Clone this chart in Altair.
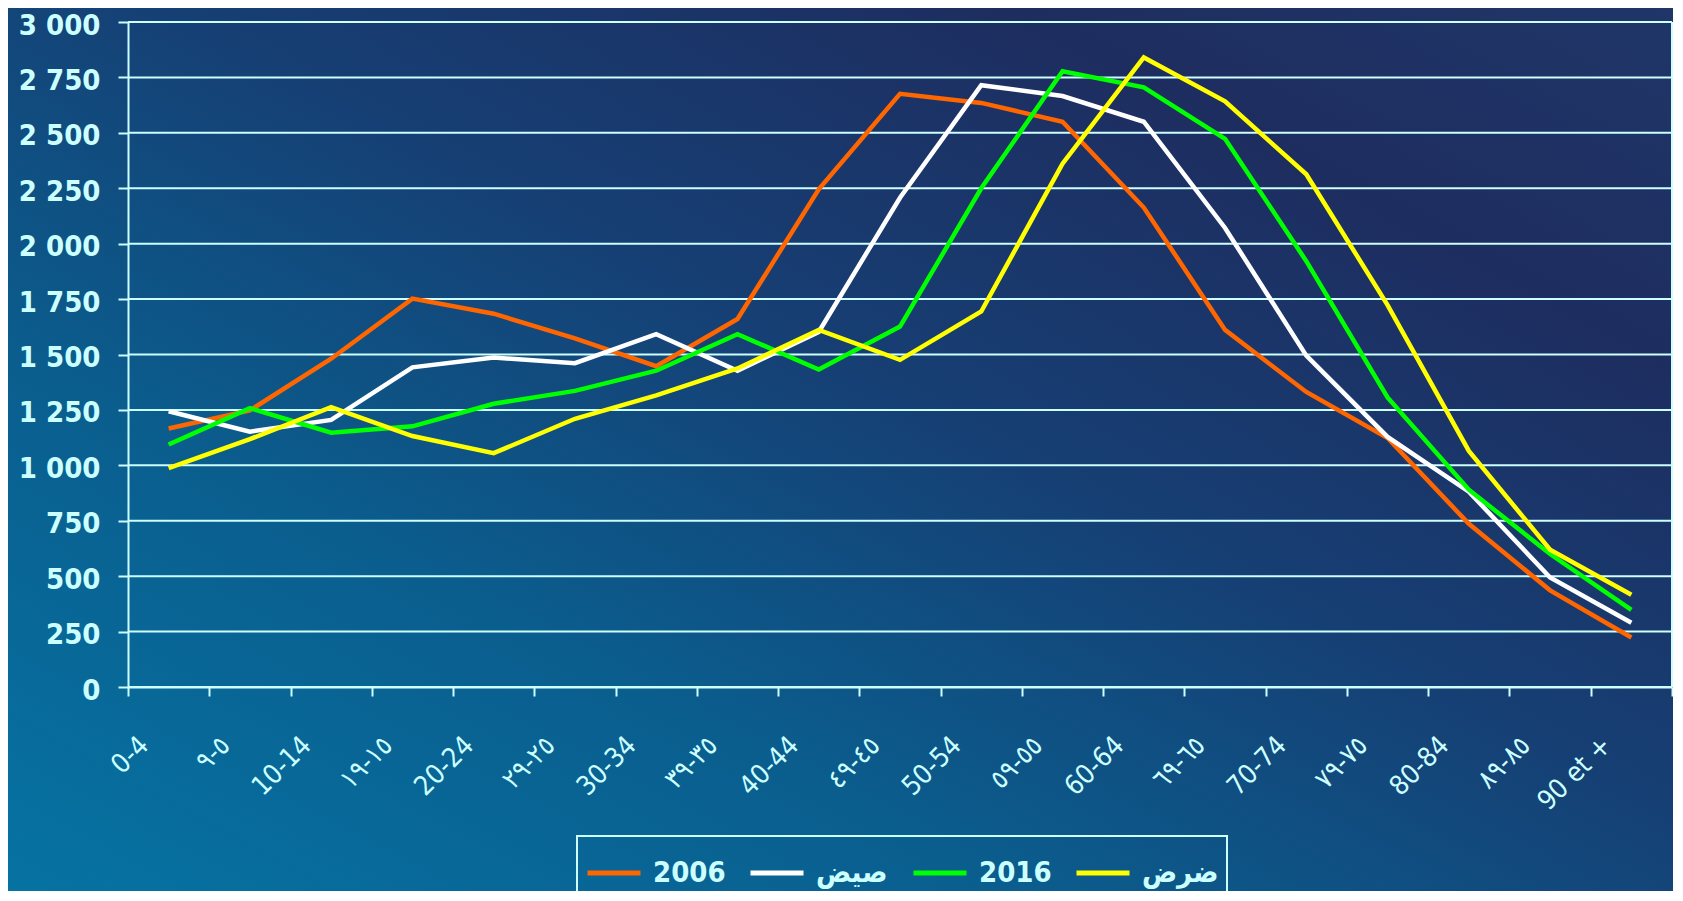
import json
import altair as alt
import pandas as pd

# ---- data ----
age_groups = ["0-4", "٥-٩", "10-14", "١٥-١٩", "20-24", "٢٥-٢٩", "30-34", "٣٥-٣٩",
              "40-44", "٤٥-٤٩", "50-54", "٥٥-٥٩", "60-64", "٦٥-٦٩", "70-74", "٧٥-٧٩",
              "80-84", "٨٥-٨٩", "90 et +"]
series_names = ["2006", "صيض", "2016", "ضرض"]
series_colors = ["#FF6600", "#FFFFFF", "#00FF00", "#FFFF00"]

values_2006 = [1166, 1248, 1481, 1752, 1684, 1573, 1447, 1660, 2245, 2676,
               2635, 2550, 2163, 1611, 1331, 1123, 736, 436, 223]
values_2011 = [1244, 1152, 1205, 1442, 1486, 1461, 1592, 1427, 1602, 2207,
               2715, 2666, 2550, 2071, 1495, 1128, 881, 494, 290]
values_2016 = [1094, 1258, 1147, 1176, 1278, 1336, 1427, 1592, 1432, 1626,
               2250, 2778, 2705, 2473, 1921, 1306, 890, 600, 348]
values_2021 = [987, 1118, 1263, 1132, 1055, 1210, 1316, 1437, 1611, 1476,
               1694, 2361, 2840, 2642, 2313, 1723, 1065, 619, 416]

y_ticks = [0, 250, 500, 750, 1000, 1250, 1500, 1750, 2000, 2250, 2500, 2750, 3000]

all_series = [values_2006, values_2011, values_2016, values_2021]

rows = []
for name, vals in zip(series_names, all_series):
    for i, (grp, v) in enumerate(zip(age_groups, vals)):
        rows.append({"pos": i + 0.5, "groupe": grp, "serie": name, "valeur": v})
df = pd.DataFrame(rows)

n = len(age_groups)
grid_df = pd.DataFrame({"valeur": y_ticks})
edge_df = pd.DataFrame({"pos": [n]})

# ---- styling ----
CYAN = "#CCFFFF"
FONT = "DejaVu Sans Condensed, DejaVu Sans"
W, H = 1544, 665
PAD = {"left": 120, "top": 14, "right": 1, "bottom": 204}

arr = json.dumps(age_groups, ensure_ascii=False)
x_label_expr = f"datum.value < {n} ? {arr}[datum.value] : ''"

x_scale = alt.Scale(domain=[0, n], nice=False, zero=False)
y_scale = alt.Scale(domain=[0, 3000], nice=False)

x_axis = alt.Axis(
    values=list(range(n + 1)),
    labelExpr=x_label_expr,
    grid=False,
    title=None,
    zindex=1,
    domainColor=CYAN, domainWidth=2,
    tickColor=CYAN, tickWidth=2, tickSize=9,
    labelAngle=-45, labelAlign="right", labelBaseline="middle",
    labelPadding=45, labelOffset=16,
    labelFont=FONT, labelFontSize=27, labelColor=CYAN,
    labelOverlap=False, labelFlush=False, labelBound=False,
)
y_axis = alt.Axis(
    values=y_ticks,
    labelExpr="replace(format(datum.value, ','), ',', ' ')",
    grid=False,
    title=None,
    zindex=1,
    domainColor=CYAN, domainWidth=2,
    tickColor=CYAN, tickWidth=2, tickSize=10,
    labelPadding=18, labelOffset=3,
    labelFont=FONT, labelFontSize=29, labelFontWeight="bold", labelColor=CYAN,
    labelOverlap=False,
)

background = alt.Chart(pd.DataFrame({"k": [0]})).mark_rect(
    color=alt.Gradient(
        gradient="linear",
        x1=0, y1=1, x2=1, y2=0,
        stops=[
            alt.GradientStop(color="#0673A3", offset=0),
            alt.GradientStop(color="#0A5E8E", offset=0.3),
            alt.GradientStop(color="#163F74", offset=0.55),
            alt.GradientStop(color="#1E2D60", offset=0.8),
            alt.GradientStop(color="#203668", offset=1),
        ],
    )
).encode(
    x=alt.value(-PAD["left"]),
    x2=alt.value(W + PAD["right"]),
    y=alt.value(-PAD["top"]),
    y2=alt.value(H + PAD["bottom"]),
)

gridlines = alt.Chart(grid_df).mark_rule(color=CYAN, strokeWidth=2).encode(
    y=alt.Y("valeur:Q", scale=y_scale, axis=y_axis),
)

right_edge = alt.Chart(edge_df).mark_rule(color=CYAN, strokeWidth=2).encode(
    x=alt.X("pos:Q", scale=x_scale, axis=x_axis),
)

lines = alt.Chart(df).mark_line(strokeWidth=4.5).encode(
    x=alt.X("pos:Q", scale=x_scale, axis=x_axis),
    y=alt.Y("valeur:Q", scale=y_scale, axis=y_axis),
    color=alt.Color(
        "serie:N",
        scale=alt.Scale(domain=series_names, range=series_colors),
        sort=series_names,
        legend=alt.Legend(
            orient="none", legendX=449, legendY=814,
            direction="horizontal", columns=4, gridAlign="all",
            symbolType="stroke", symbolSize=2809, symbolStrokeWidth=5,
            labelFont=FONT, labelFontSize=29, labelFontWeight="bold", labelColor=CYAN,
            labelOffset=10, columnPadding=10, padding=8,
            strokeColor=CYAN, title=None,
        ),
    ),
    order=alt.Order("pos:Q"),
)

chart = alt.layer(background, gridlines, right_edge, lines).properties(
    width=W, height=H,
    padding=PAD,
    autosize=alt.AutoSizeParams(type="none"),
).configure(
    background="#17477A",
).configure_view(
    stroke=None,
).configure_legend(
    strokeWidth=2,
)

chart.save("out.html", embed_options={"renderer": "svg", "actions": False})
